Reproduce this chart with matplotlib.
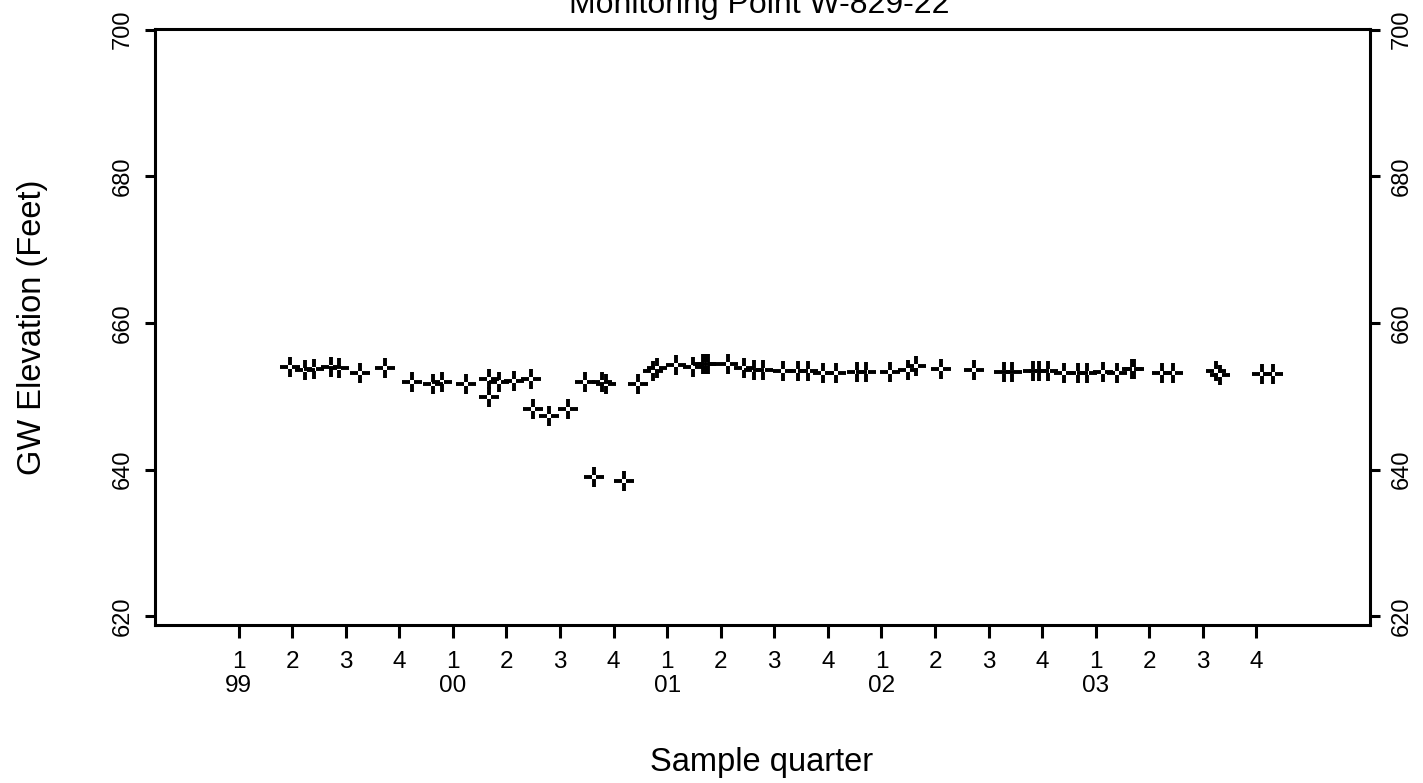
import numpy as np
from matplotlib import pyplot as plt
from matplotlib.path import Path

plt.rcParams["font.family"] = ["Liberation Sans", "DejaVu Sans"]

# sample dates as decimal years, GW elevation in feet
sample_date = [1999.239, 1999.309, 1999.351, 1999.430, 1999.468, 1999.566, 1999.682,
               1999.808, 1999.906, 1999.948, 2000.060, 2000.167, 2000.167, 2000.214,
               2000.284, 2000.363, 2000.373, 2000.447, 2000.536, 2000.615, 2000.657,
               2000.695, 2000.713, 2000.797, 2000.862, 2000.932, 2000.951, 2001.040,
               2001.119, 2001.166, 2001.180, 2001.189, 2001.282, 2001.357, 2001.403,
               2001.445, 2001.539, 2001.609, 2001.655, 2001.725, 2001.786, 2001.884,
               2001.930, 2002.038, 2002.126, 2002.159, 2002.280, 2002.430, 2002.570,
               2002.611, 2002.705, 2002.733, 2002.775, 2002.854, 2002.919, 2002.961,
               2003.036, 2003.101, 2003.167, 2003.180, 2003.311, 2003.362, 2003.563,
               2003.582, 2003.778, 2003.829]
gw_elev = [654.05, 653.65, 653.78, 654.05, 653.92, 653.24, 653.92,
           652.01, 651.74, 652.01, 651.74, 652.29, 649.84, 652.01,
           652.15, 652.29, 648.20, 647.25, 648.20, 652.01, 638.95,
           651.88, 651.74, 638.41, 651.74, 653.51, 653.92, 654.33,
           654.05, 654.46, 654.46, 654.46, 654.46, 653.92, 653.65,
           653.65, 653.51, 653.51, 653.51, 653.24, 653.24, 653.37,
           653.37, 653.37, 653.65, 654.19, 653.78, 653.65, 653.37,
           653.37, 653.51, 653.51, 653.51, 653.24, 653.24, 653.24,
           653.37, 653.24, 653.78, 653.78, 653.24, 653.24, 653.51,
           652.97, 653.10, 653.10]

years = ["99", "00", "01", "02", "03"]
quarters = ["1", "2", "3", "4"]
y_ticks = [620, 640, 660, 680, 700]

W, H = 1423, 783
fig = plt.figure(figsize=(W / 100, H / 100), dpi=100)
ax = fig.add_axes([155 / W, 1 - 625 / H, (1370 - 155) / W, (625 - 29) / H])

# plus sign with an open centre
g = 0.2
cross = Path([(-1, 0), (-g, 0), (g, 0), (1, 0), (0, -1), (0, -g), (0, g), (0, 1)],
             [Path.MOVETO, Path.LINETO] * 4)

ax.plot(sample_date, gw_elev, linestyle="none", marker=cross, markersize=14.8,
        markeredgewidth=2.8, markeredgecolor="black", markerfacecolor="none")

tick_pos = []
tick_lab = []
for i, yr in enumerate(years):
    for j, q in enumerate(quarters):
        tick_pos.append(1999 + i + j / 4)
        tick_lab.append(q + "\n" + yr if j == 0 else q + "\n")

ax.set_xlim(1998.61, 2004.28)
ax.set_ylim(618.8, 700.1)
ax.set_xticks(tick_pos)
ax.set_xticklabels(tick_lab, fontsize=17.5, linespacing=1.15)
ax.set_yticks(y_ticks)
ax.set_yticklabels([str(v) for v in y_ticks], fontsize=17, rotation=90, va="center")

ax.tick_params(axis="x", direction="out", length=9.5, width=2.2, pad=9)
ax.tick_params(axis="y", direction="out", length=7, width=2.2, pad=8,
               left=True, right=True, labelleft=True, labelright=True)
for lab in ax.get_yticklabels(which="both"):
    lab.set_rotation(90)
    lab.set_va("center")

for s in ax.spines.values():
    s.set_linewidth(2.2)

fig.text(759 / W, 1 - 13 / H, "Monitoring Point W-829-22", ha="center", va="baseline",
         fontsize=23)
fig.text(762 / W, 1 - 763 / H, "Sample quarter", ha="center", va="center", fontsize=23.5)
fig.text(33 / W, 1 - 327 / H, "GW Elevation (Feet)", ha="center", va="center",
         rotation=90, fontsize=23.5)

fig.savefig("out.png", dpi=100)
